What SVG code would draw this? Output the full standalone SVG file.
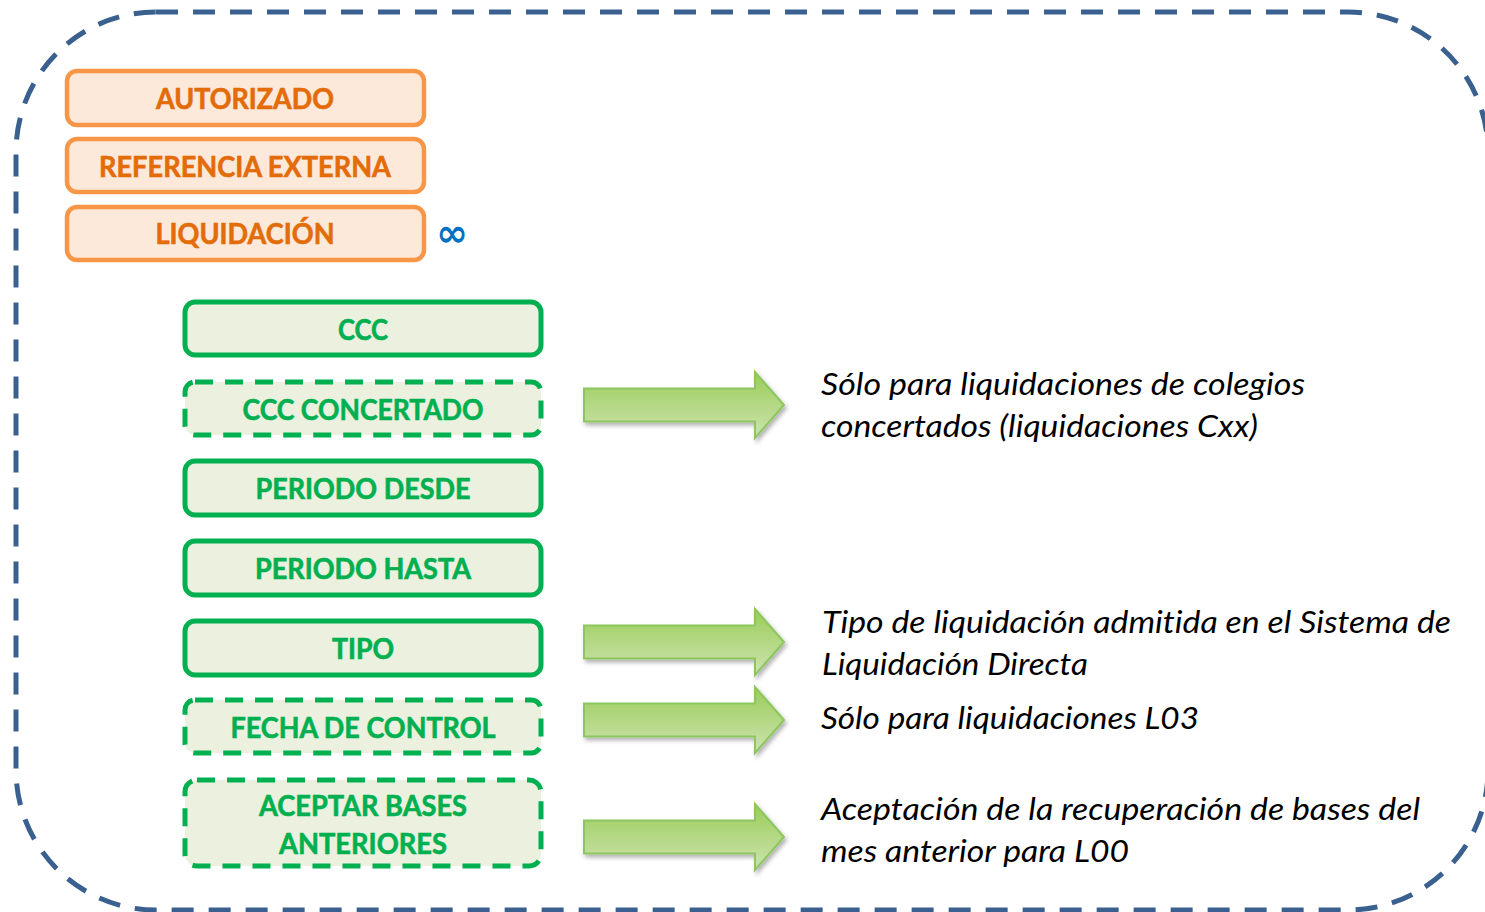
<svg xmlns="http://www.w3.org/2000/svg" width="1485" height="912" viewBox="0 0 1485 912">
<defs>
<linearGradient id="ag" x1="0" y1="0" x2="0" y2="1">
<stop offset="0" stop-color="#9ACD5A"/>
<stop offset="1" stop-color="#CDE3AE"/>
</linearGradient>
<filter id="sh" x="-10%" y="-20%" width="130%" height="150%">
<feDropShadow dx="2" dy="3" stdDeviation="2" flood-color="#000" flood-opacity="0.3"/>
</filter>
<path id="arr" d="M0,-16.5 H171 V-33 L200,0 L171,33 V16.5 H0 Z"/>
</defs>
<style>
text{font-variant-ligatures:none}
.o rect{fill:#FDE9D9;stroke:#F79646;stroke-width:4.5}
.o text{fill:#E36C09;stroke:#E36C09;stroke-width:0.6;font-family:Lato,"Liberation Sans",sans-serif;font-weight:bold;font-size:28px;text-anchor:middle}
.g rect{fill:#EBF1DE;stroke:#00B050;stroke-width:5}
.g.d rect{stroke-dasharray:18 12}
.g text{fill:#00B050;stroke:#00B050;stroke-width:0.6;font-family:Lato,"Liberation Sans",sans-serif;font-weight:bold;font-size:28px;text-anchor:middle}
.a use{fill:url(#ag);stroke:#8DC65F;stroke-width:2;filter:url(#sh)}
.n text{font-family:Lato,"Liberation Sans",sans-serif;font-style:italic;font-size:30px;fill:#000}
</style>
<rect x="16" y="12" width="1472" height="898" rx="140" ry="140" fill="none" stroke="#3A6090" stroke-width="5" stroke-dasharray="22 15"/>
<g id="autorizado" class="o"><rect x="67" y="71" width="357" height="54" rx="10"/><text x="245" y="109" textLength="178" lengthAdjust="spacingAndGlyphs">AUTORIZADO</text></g>
<g id="referencia" class="o"><rect x="67" y="139" width="357" height="53" rx="10"/><text x="245" y="177" textLength="292" lengthAdjust="spacingAndGlyphs">REFERENCIA EXTERNA</text></g>
<g id="liquidacion" class="o"><rect x="67" y="207" width="357" height="53" rx="10"/><text x="245" y="244" textLength="179" lengthAdjust="spacingAndGlyphs">LIQUIDACIÓN</text></g>
<text x="452" y="246" font-family="'DejaVu Sans',sans-serif" font-size="38" font-weight="bold" fill="#0070C0" text-anchor="middle">∞</text>
<g id="ccc" class="g"><rect x="185" y="302" width="356" height="53" rx="10"/><text x="363" y="340" textLength="50" lengthAdjust="spacingAndGlyphs">CCC</text></g>
<g id="ccc-concertado" class="g d"><rect x="185" y="382" width="356" height="53" rx="10"/><text x="363" y="420" textLength="241" lengthAdjust="spacingAndGlyphs">CCC CONCERTADO</text></g>
<g id="periodo-desde" class="g"><rect x="185" y="461" width="356" height="54" rx="10"/><text x="363" y="499" textLength="215" lengthAdjust="spacingAndGlyphs">PERIODO DESDE</text></g>
<g id="periodo-hasta" class="g"><rect x="185" y="541" width="356" height="54" rx="10"/><text x="363" y="579" textLength="216" lengthAdjust="spacingAndGlyphs">PERIODO HASTA</text></g>
<g id="tipo" class="g"><rect x="185" y="621" width="356" height="54" rx="10"/><text x="363" y="659" textLength="62" lengthAdjust="spacingAndGlyphs">TIPO</text></g>
<g id="fecha" class="g d"><rect x="185" y="700" width="356" height="53" rx="10"/><text x="363" y="738" textLength="265" lengthAdjust="spacingAndGlyphs">FECHA DE CONTROL</text></g>
<g id="aceptar" class="g d"><rect x="185" y="780" width="356" height="86" rx="12"/><text x="363" y="816" textLength="208" lengthAdjust="spacingAndGlyphs">ACEPTAR BASES</text><text x="363" y="854" textLength="168" lengthAdjust="spacingAndGlyphs">ANTERIORES</text></g>
<g id="connectors" class="a">
<use href="#arr" x="584" y="405"/>
<use href="#arr" x="584" y="642"/>
<use href="#arr" x="584" y="720"/>
<use href="#arr" x="584" y="837"/>
</g>
<g id="notes" class="n">
<text x="821" y="395" textLength="484" lengthAdjust="spacingAndGlyphs">Sólo para liquidaciones de colegios</text>
<text x="821" y="437" textLength="437" lengthAdjust="spacingAndGlyphs">concertados (liquidaciones Cxx)</text>
<text x="822" y="633" textLength="629" lengthAdjust="spacingAndGlyphs">Tipo de liquidación admitida en el Sistema de</text>
<text x="822" y="675" textLength="266" lengthAdjust="spacingAndGlyphs">Liquidación Directa</text>
<text x="821" y="729" textLength="378" lengthAdjust="spacingAndGlyphs">Sólo para liquidaciones L03</text>
<text x="821" y="820" textLength="599" lengthAdjust="spacingAndGlyphs">Aceptación de la recuperación de bases del</text>
<text x="821" y="862" textLength="308" lengthAdjust="spacingAndGlyphs">mes anterior para L00</text>
</g>
</svg>
